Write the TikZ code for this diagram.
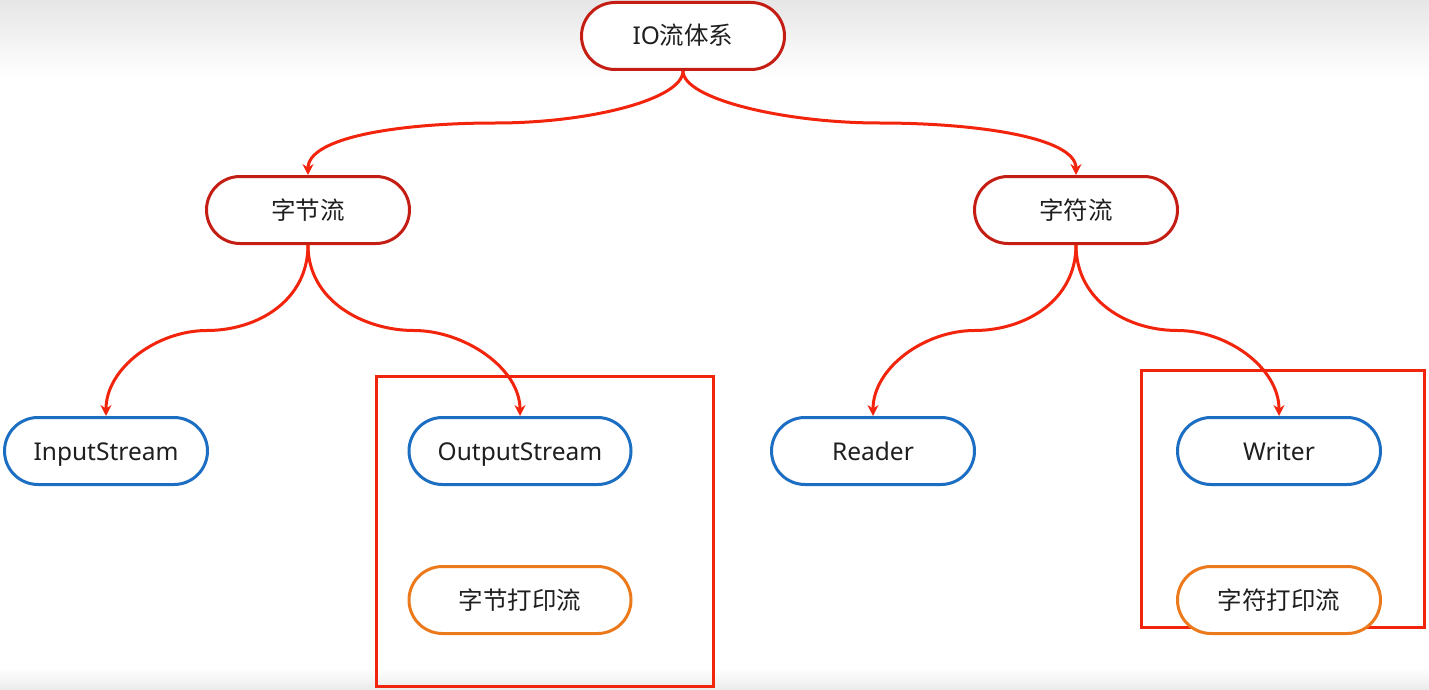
\documentclass[tikz,border=0pt]{standalone}
\usepackage{fontspec}
\setmainfont{Noto Sans}
\newfontfamily\cjk{Noto Sans CJK SC}
\usetikzlibrary{arrows.meta,shapes.misc,calc}
\definecolor{darkred}{HTML}{C41E14}
\definecolor{linered}{HTML}{F2240C}
\definecolor{boxblue}{HTML}{1B6EC2}
\definecolor{boxorange}{HTML}{EC7A1C}
\definecolor{bggray}{HTML}{E6E6E6}
\tikzset{
  pill/.style={draw, line width=3pt, rounded rectangle, minimum width=203pt, minimum height=67pt, fill=white, inner sep=0pt, font=\fontsize{24.5}{28}\selectfont, text=black!88, text height=18pt, text depth=0pt},
  toppill/.style={pill, draw=darkred},
  bluepill/.style={pill, draw=boxblue},
  orangepill/.style={pill, draw=boxorange},
  conn/.style={draw=linered, line width=3pt, -{Stealth[length=11pt,width=11pt]}},
  frame/.style={draw=linered, line width=3pt}
}
\begin{document}
\begin{tikzpicture}[x=1pt,y=-1pt]
\useasboundingbox (0,0) rectangle (1429,690);
\shade[top color=bggray, bottom color=white] (0,0) rectangle (1429,78);
\shade[top color=white, bottom color=black!8] (0,668) rectangle (1429,690);
% frames
\draw[frame] (376,376) rectangle (713,686);
\draw[frame] (1141,370) rectangle (1424,627);
% nodes
\node[toppill] (io) at (683,36) {IO{\cjk 流体系}};
\node[toppill] (bs) at (308,210) {\cjk 字节流};
\node[toppill] (cs) at (1076,210) {\cjk 字符流};
\node[bluepill] (in) at (106,451) {InputStream};
\node[bluepill, minimum width=222pt] (out) at (520,451) {OutputStream};
\node[bluepill] (rd) at (873,451) {Reader};
\node[bluepill] (wr) at (1279,451) {Writer};
\node[orangepill, minimum width=222pt] (bp) at (520,600) {\cjk 字节打印流};
\node[orangepill] (cp) at (1279,600) {\cjk 字符打印流};
% mid points of the connectors
\coordinate (m1) at ($(io.south)!0.5!(bs.north)$);
\coordinate (m2) at ($(io.south)!0.5!(cs.north)$);
\coordinate (m3) at ($(bs.south)!0.5!(in.north)$);
\coordinate (m4) at ($(bs.south)!0.5!(out.north)$);
\coordinate (m5) at ($(cs.south)!0.5!(rd.north)$);
\coordinate (m6) at ($(cs.south)!0.5!(wr.north)$);
% connectors
\draw[conn] (io.south) .. controls +(0,28) and +(95,0) .. (m1) .. controls +(-95,0) and +(0,-38) .. (bs.north);
\draw[conn] (io.south) .. controls +(0,28) and +(-95,0) .. (m2) .. controls +(95,0) and +(0,-38) .. (cs.north);
\draw[conn] (bs.south) .. controls +(0,56) and +(50,0) .. (m3) .. controls +(-50,0) and +(0,-48) .. (in.north);
\draw[conn] (bs.south) .. controls +(0,56) and +(-50,0) .. (m4) .. controls +(50,0) and +(0,-48) .. (out.north);
\draw[conn] (cs.south) .. controls +(0,56) and +(50,0) .. (m5) .. controls +(-50,0) and +(0,-48) .. (rd.north);
\draw[conn] (cs.south) .. controls +(0,56) and +(-50,0) .. (m6) .. controls +(50,0) and +(0,-48) .. (wr.north);
\end{tikzpicture}
\end{document}
